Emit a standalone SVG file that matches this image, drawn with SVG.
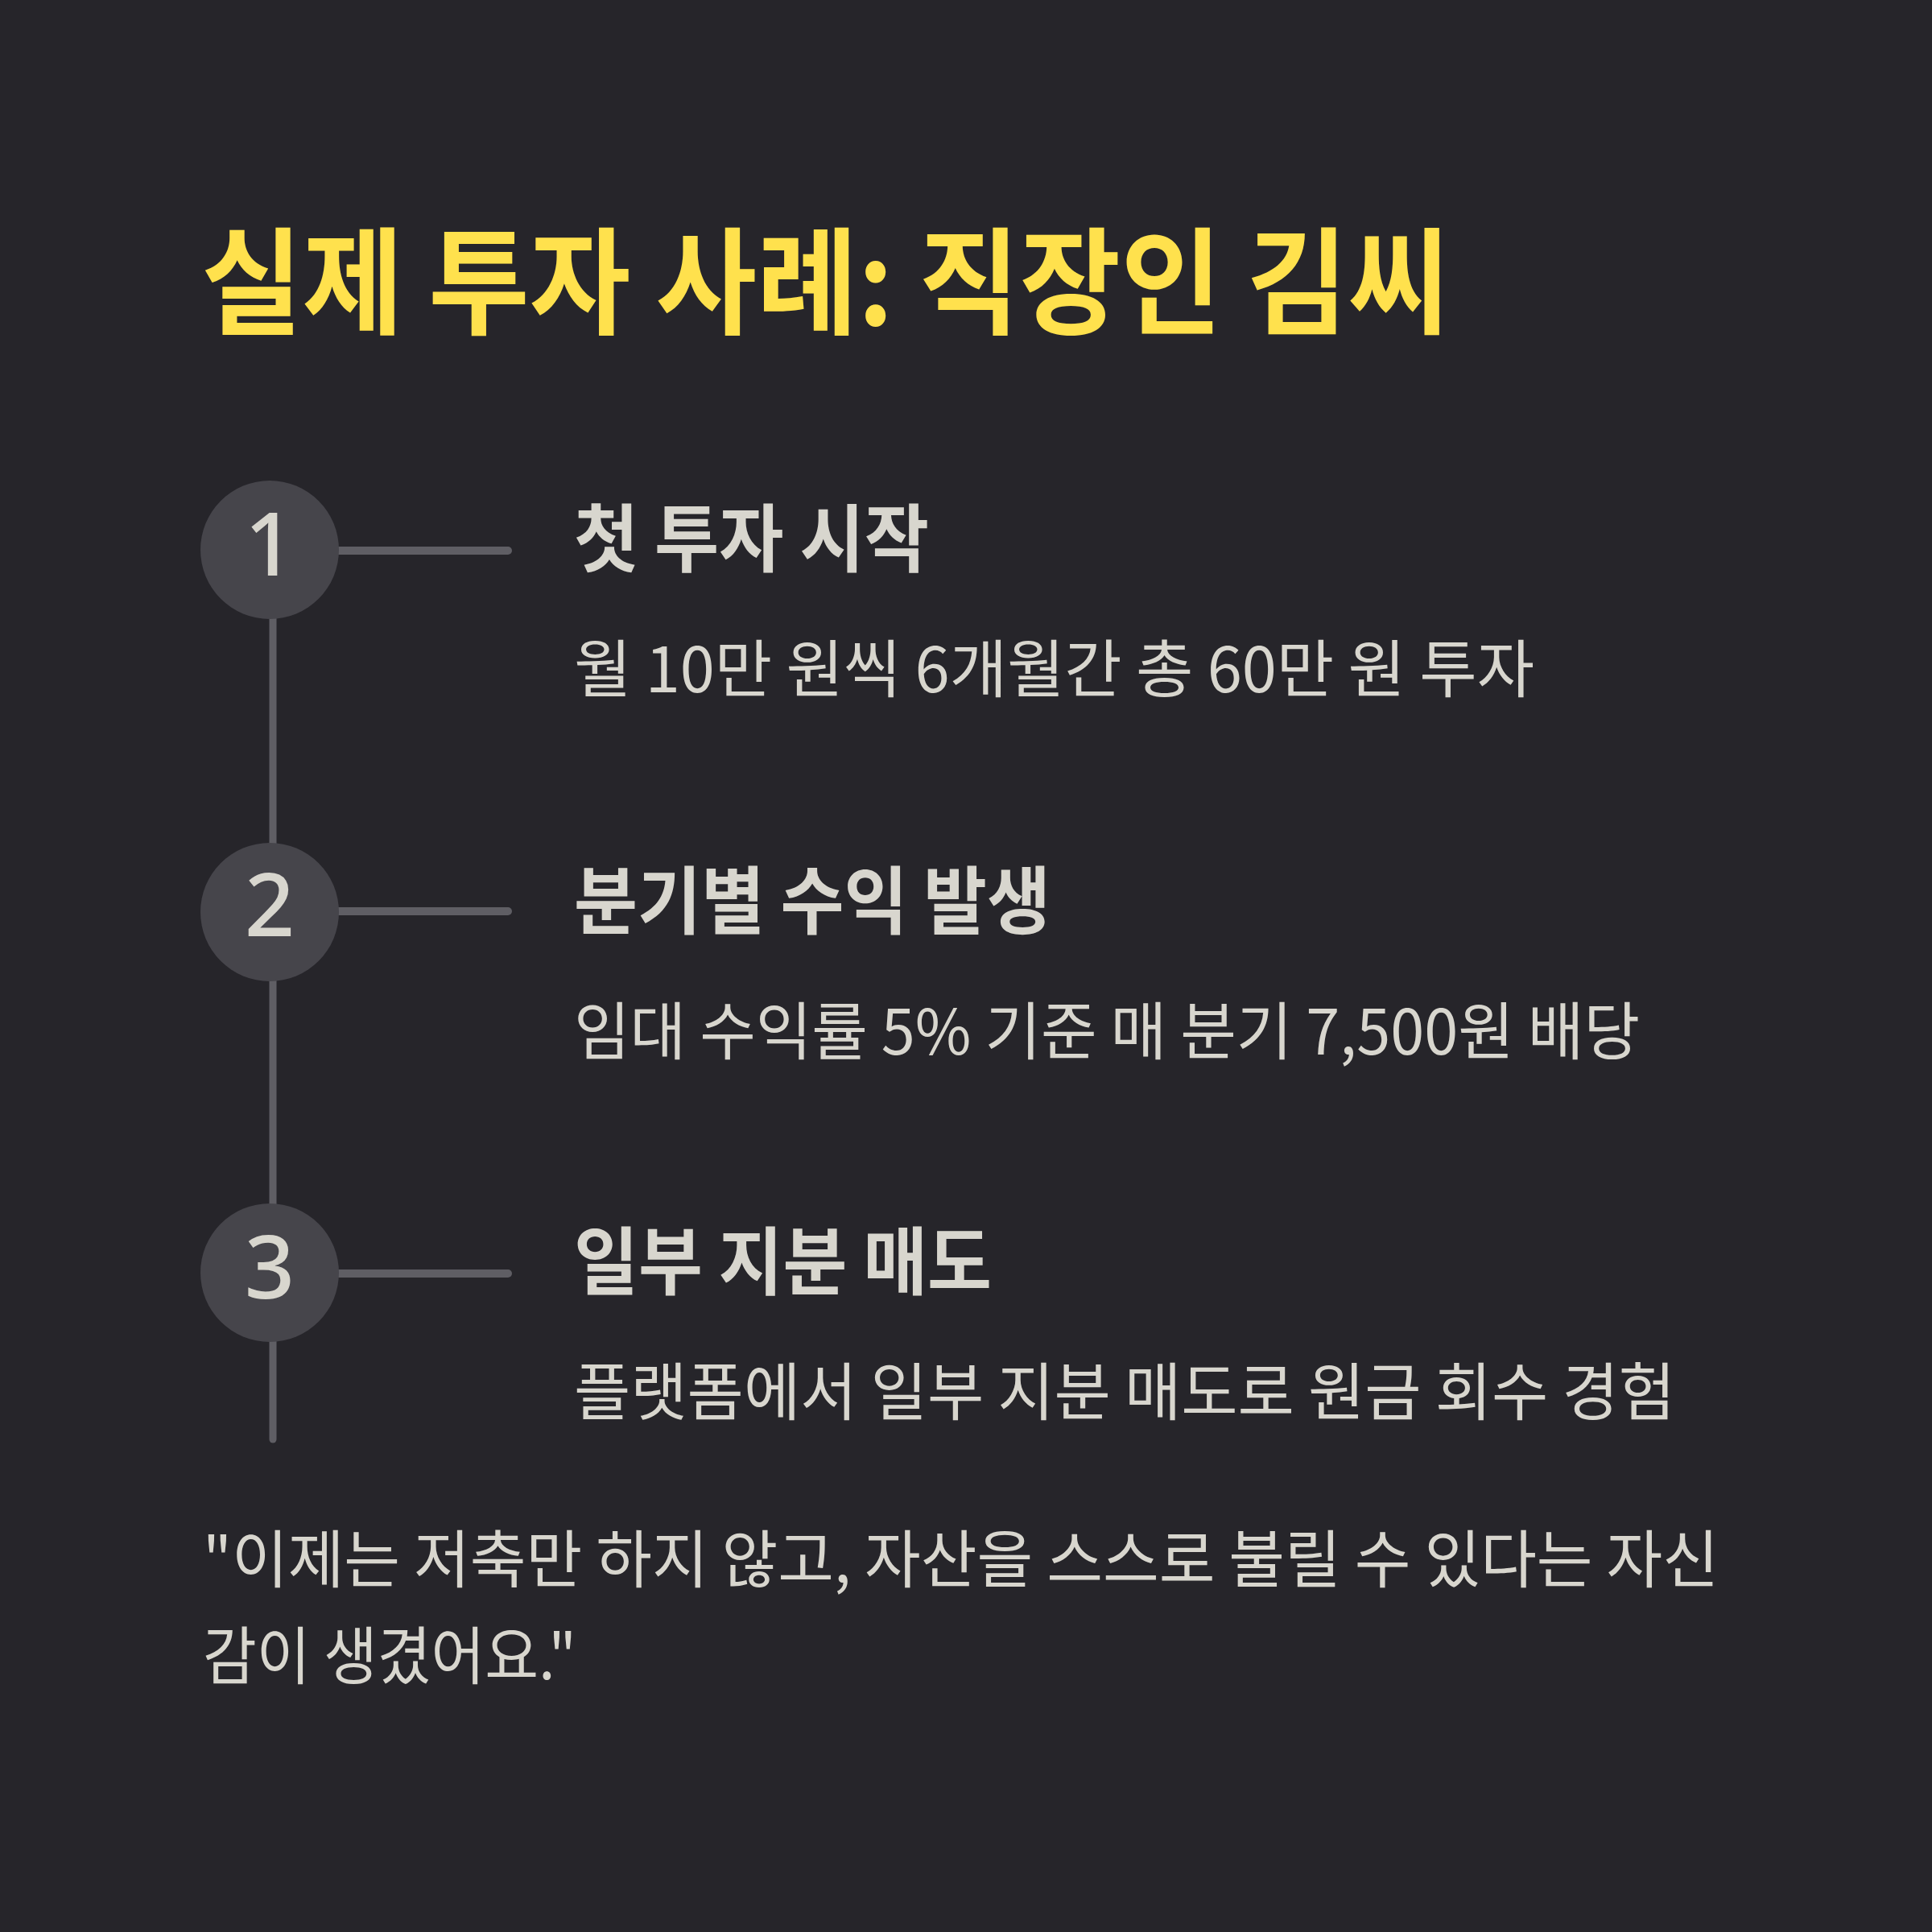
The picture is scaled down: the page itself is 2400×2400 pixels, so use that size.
<svg xmlns="http://www.w3.org/2000/svg" width="2400" height="2400" viewBox="0 0 2400 2400">
<style>
.bg{fill:#26252A}
.title{font-family:"Noto Sans CJK KR","Noto Sans",sans-serif;font-weight:700;font-size:144px;fill:#FFE14D}
.head{font-family:"Noto Sans CJK KR","Noto Sans",sans-serif;font-weight:700;font-size:92px;fill:#D8D6CE}
.body{font-family:"Noto Sans CJK KR","Noto Sans",sans-serif;font-weight:400;font-size:78px;fill:#D8D6CE}
.num{font-family:"Noto Sans","Noto Sans CJK KR",sans-serif;font-weight:500;font-size:109px;fill:#D8D6CE;text-anchor:middle}
.circ{fill:#46454B}
.line{stroke:#5F5E64;stroke-width:10;stroke-linecap:round;fill:none}
</style>
<rect class="bg" x="0" y="0" width="2400" height="2400"/>
<text id="title" class="title" x="250" y="404" textLength="1550" lengthAdjust="spacingAndGlyphs">실제 투자 사례: 직장인 김씨</text>
<g id="connectors">
<line class="line" x1="339" y1="683" x2="339" y2="1788" style="stroke-width:9"/>
<line class="line" x1="335" y1="684" x2="631" y2="684"/>
<line class="line" x1="335" y1="1132" x2="631" y2="1132"/>
<line class="line" x1="335" y1="1582" x2="631" y2="1582"/>
</g>
<g id="step1">
<circle class="circ" cx="335" cy="683" r="86"/>
<text class="num" x="335" y="715">1</text>
<text class="head" x="713" y="703" textLength="441" lengthAdjust="spacingAndGlyphs">첫 투자 시작</text>
<text class="body" x="713" y="860" textLength="1193" lengthAdjust="spacingAndGlyphs">월 10만 원씩 6개월간 총 60만 원 투자</text>
</g>
<g id="step2">
<circle class="circ" cx="335" cy="1133" r="86"/>
<text class="num" x="335" y="1163">2</text>
<text class="head" x="713" y="1153" textLength="592" lengthAdjust="spacingAndGlyphs">분기별 수익 발생</text>
<text class="body" x="713" y="1310" textLength="1324" lengthAdjust="spacingAndGlyphs">임대 수익률 5% 기준 매 분기 7,500원 배당</text>
</g>
<g id="step3">
<circle class="circ" cx="335" cy="1581" r="86"/>
<text class="num" x="335" y="1613">3</text>
<text class="head" x="713" y="1601" textLength="519" lengthAdjust="spacingAndGlyphs">일부 지분 매도</text>
<text class="body" x="713" y="1758" textLength="1368" lengthAdjust="spacingAndGlyphs">플랫폼에서 일부 지분 매도로 원금 회수 경험</text>
</g>
<g id="quote">
<text class="body" x="252" y="1966" textLength="1883" lengthAdjust="spacingAndGlyphs">"이제는 저축만 하지 않고, 자산을 스스로 불릴 수 있다는 자신</text>
<text class="body" x="252" y="2086" textLength="464" lengthAdjust="spacingAndGlyphs">감이 생겼어요."</text>
</g>
</svg>
